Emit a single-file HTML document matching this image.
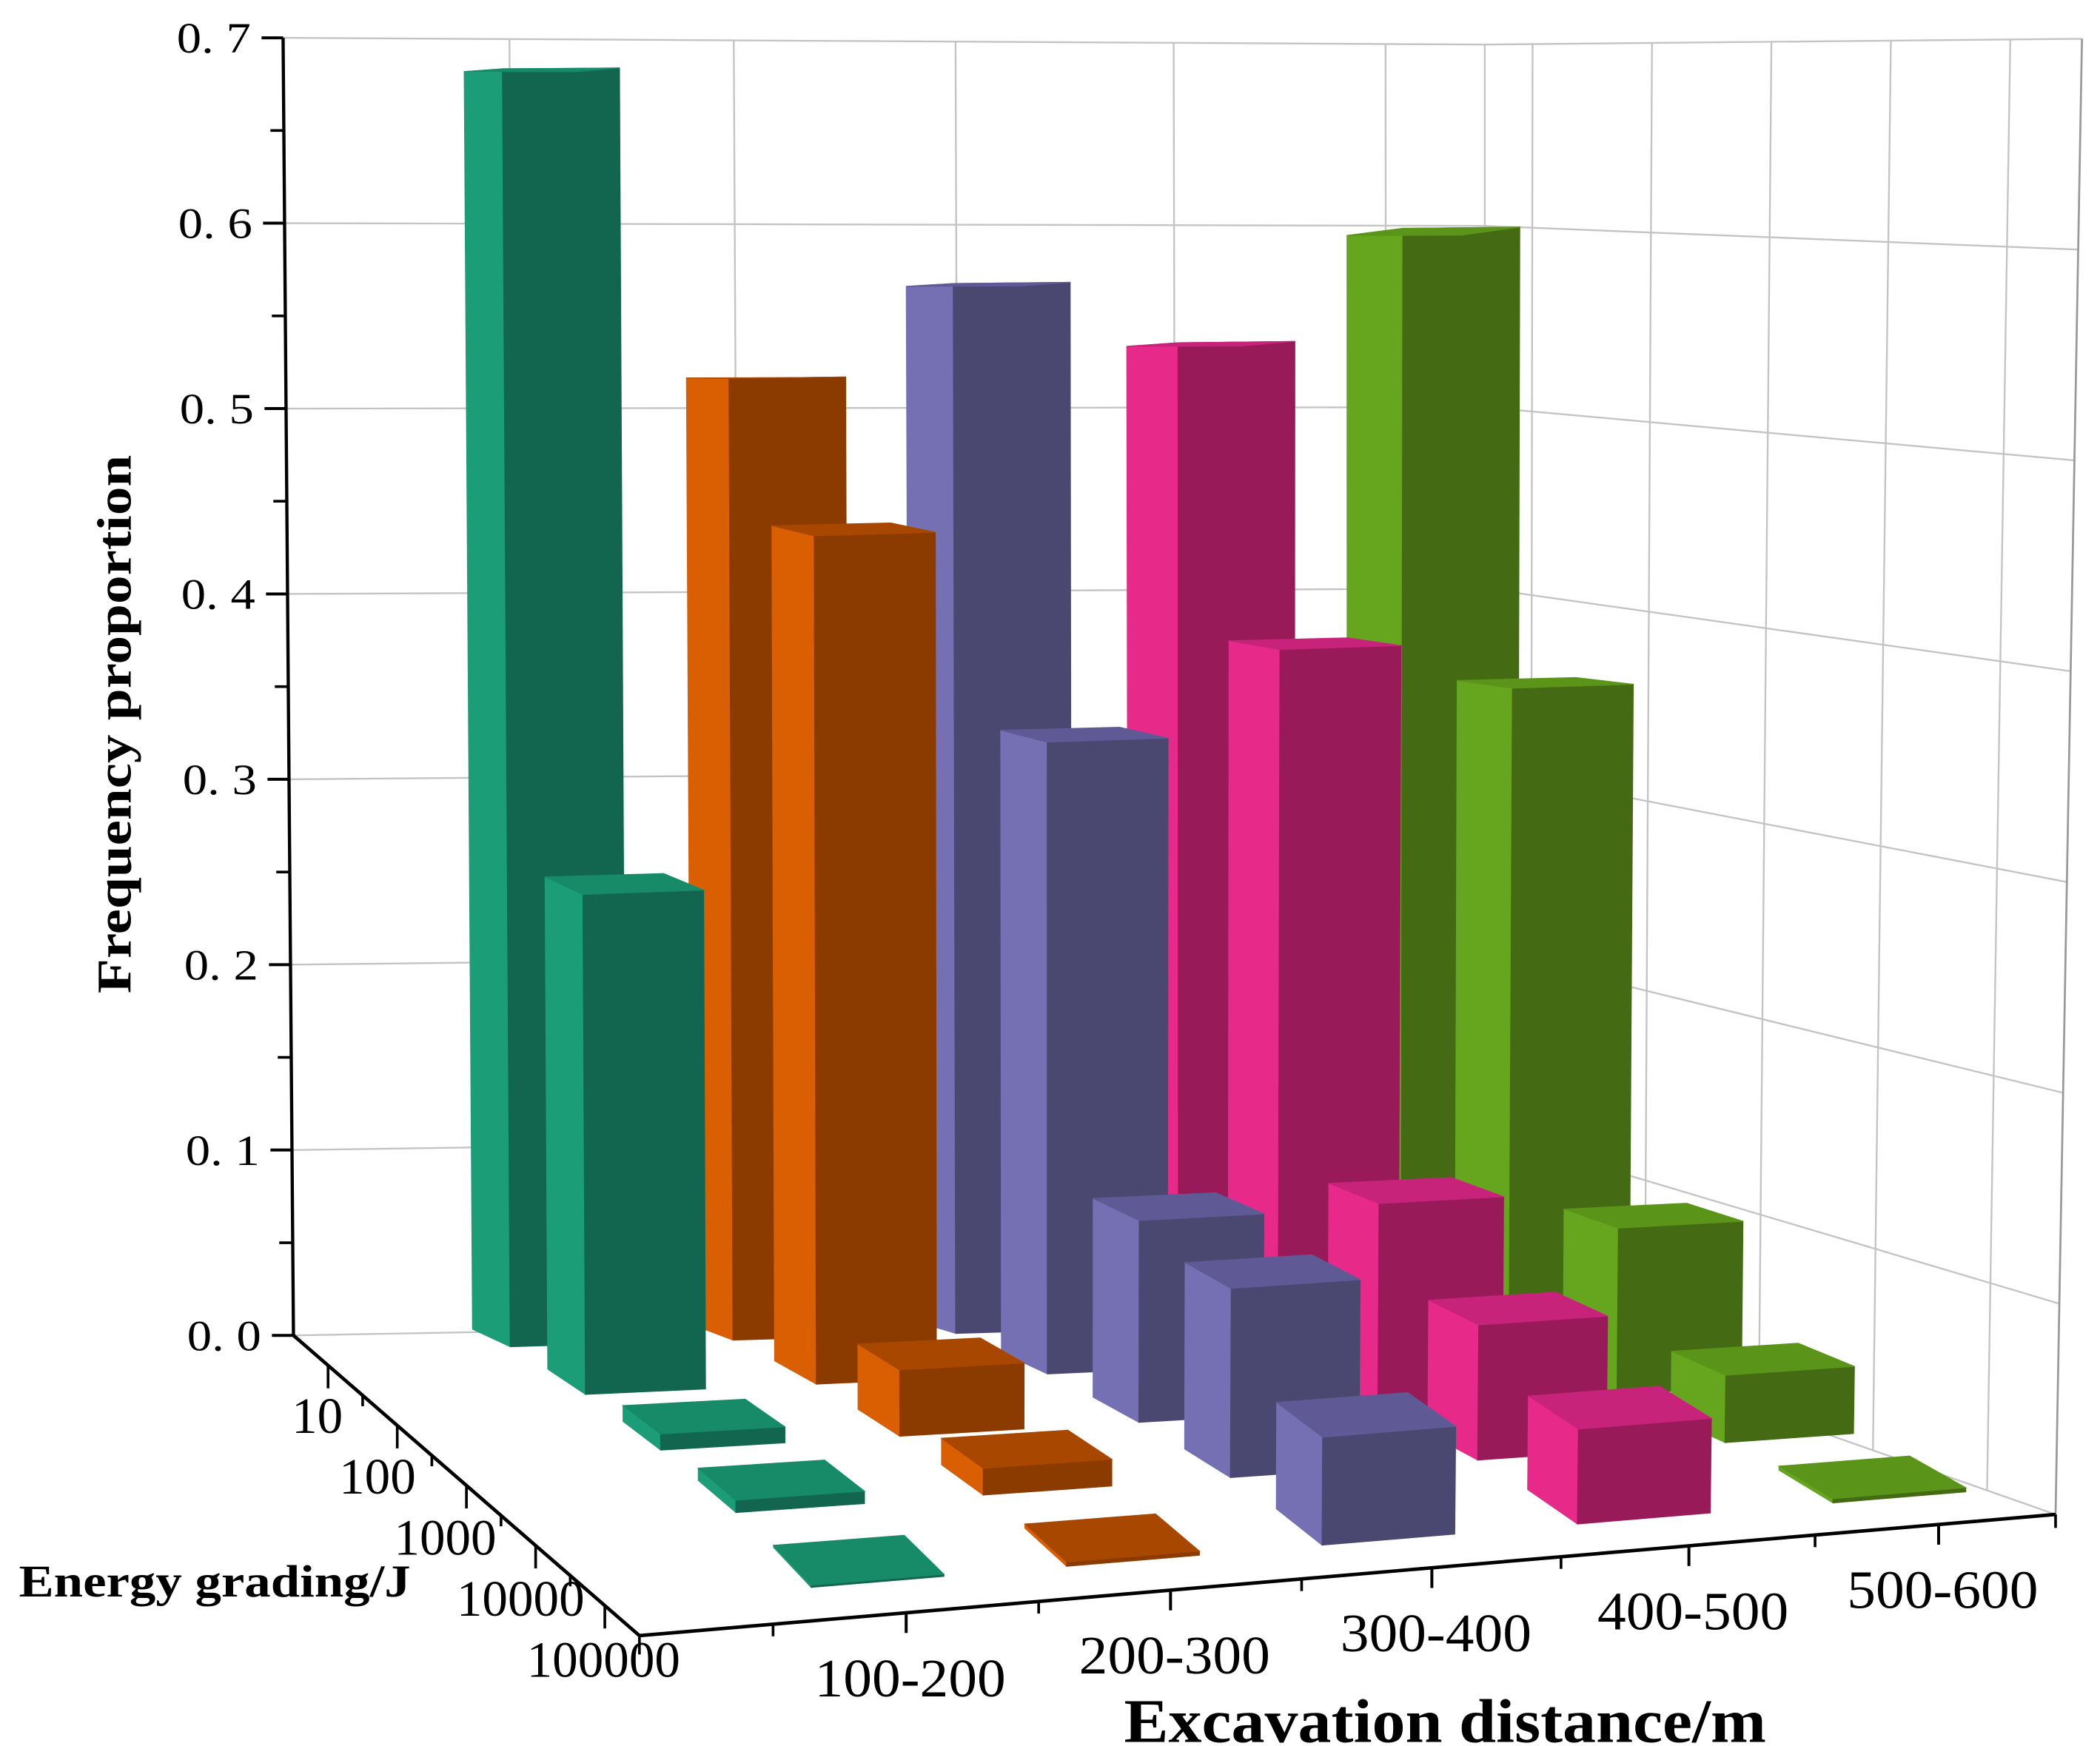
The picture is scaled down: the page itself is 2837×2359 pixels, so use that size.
<!DOCTYPE html>
<html><head><meta charset="utf-8"><style>
html,body{margin:0;padding:0;background:#fff;}
svg{display:block;}
text{font-family:"Liberation Serif",serif;fill:#000;}
</style></head><body>
<svg id="chart" width="2837" height="2359" viewBox="0 0 1560 1297" preserveAspectRatio="none" xmlns="http://www.w3.org/2000/svg">
<rect x="0" y="0" width="1560" height="1297" fill="#fff"/>
<g id="walls"></g>
<g id="bars"></g>
<g id="axes"></g>
<text x="0" y="0" transform="translate(97,538) rotate(-90)" text-anchor="middle" font-weight="bold" font-size="36" textLength="400" lengthAdjust="spacingAndGlyphs">Frequency proportion</text>
<text x="14" y="1186" font-weight="bold" font-size="34" textLength="291" lengthAdjust="spacingAndGlyphs">Energy grading/J</text>
<text x="835" y="1294" font-weight="bold" font-size="46" textLength="477" lengthAdjust="spacingAndGlyphs">Excavation distance/m</text>
</svg>
<script>
const categories = ['100-200','200-300','300-400','400-500','500-600'];
const energyLevels = ['10','100','1000','10000','100000'];
const values100_200 = [0.675, 0.256, 0.008, 0.006, 0.001];
const values200_300 = [0.51, 0.436, 0.033, 0.013, 0.002];
const values300_400 = [0.559, 0.326, 0.101, 0.092, 0.051];
const values400_500 = [0.526, 0.37, 0.103, 0.066, 0.045];
const values500_600 = [0.586, 0.346, 0.084, 0.033, 0.002];
const seriesValues = [values100_200, values200_300, values300_400, values400_500, values500_600];
const yTicks = [0, 0.1, 0.2, 0.3, 0.4, 0.5, 0.6, 0.7];
const yTickLabels = ['0. 0','0. 1','0. 2','0. 3','0. 4','0. 5','0. 6','0. 7'];

const NS = 'http://www.w3.org/2000/svg';
const U = 5.5, V = 5, HMAX = 0.7;
const palettes = [
  {side:'#1b9e77', front:'#126650', top:'#178a68'},
  {side:'#d95f02', front:'#8c3b00', top:'#a84800'},
  {side:'#7570b3', front:'#4a4870', top:'#5f5a95'},
  {side:'#e7298a', front:'#981a58', top:'#c8237a'},
  {side:'#66a61e', front:'#446b14', top:'#5a9419'}
];
function bil(a,b,c,d,fu,fv){return a*(1-fu)*(1-fv)+b*fu*(1-fv)+c*fu*fv+d*(1-fu)*fv;}
function proj(u,v,h,warp,bar){
  let fu=u/U; const fv=v/V;
  if(warp) fu=1-Math.pow(Math.max(0,1-fu),1.04);
  const x=bil(218,1103,1527,475,fu,fv);
  let y=bil(992,976,1125,1215,fu,fv);
  if(bar) y-=60*Math.sqrt(Math.max(0,fv*(1-fv)));
  const s=bil(1377,1347,1566,1600,fu,fv), t=bil(-11,0,28,-8,fu,fv);
  return [x+h*t, y-h*s];
}
function mk(tag, attrs, parent){
  const el=document.createElementNS(NS,tag);
  for(const k in attrs) el.setAttribute(k, attrs[k]);
  parent.appendChild(el); return el;
}
const walls=document.getElementById('walls');
const barsG=document.getElementById('bars');
const axes=document.getElementById('axes');
function line(p,q,stroke,w,parent,name){
  const el=mk('line',{x1:p[0],y1:p[1],x2:q[0],y2:q[1],stroke:stroke,'stroke-width':w},parent);
  
  
  return el;
}
const GRID='#c4c4c4';
yTicks.forEach(function(t){
  line(proj(0,0,t),proj(U,0,t),GRID,1.3,walls,'back-wall-gridline');
  line(proj(U,0,t),proj(U,V,t),GRID,1.3,walls,'side-wall-gridline');
});
for(let i=1;i<=categories.length;i++){ line(proj(i,0,0,true),proj(i,0,HMAX,true),GRID,1.3,walls,'back-wall-vertical-gridline'); }
line(proj(U,0,0),proj(U,0,HMAX),GRID,1.3,walls,'wall-corner-line');
for(let j=0;j<energyLevels.length;j++){ line(proj(U,j+0.4,0),proj(U,j+0.4,HMAX),GRID,1.3,walls,'side-wall-vertical-gridline'); }
line(proj(U,V,0),proj(U,V,HMAX),'#999',1.5,walls,'side-wall-front-edge');

const W=0.26, D=0.25;
function poly(pts,fill,name){
  const el=mk('polygon',{points:pts.map(p=>p[0].toFixed(1)+','+p[1].toFixed(1)).join(' '),fill:fill,stroke:fill,'stroke-width':0.6},barsG);
  
  
}
for(let j=0;j<energyLevels.length;j++){
  for(let i=categories.length-1;i>=0;i--){
    const h=seriesValues[i][j], uc=i+1, vc=j+0.5, pal=palettes[i];
    const u0=uc-W,u1=uc+W,v0=vc-D,v1=vc+D;
    const base='bar-'+categories[i]+'-'+energyLevels[j];
    poly([proj(u0,v0,0,false,true),proj(u0,v1,0,false,true),proj(u0,v1,h,false,true),proj(u0,v0,h,false,true)],pal.side,base+'-side');
    poly([proj(u0,v1,0,false,true),proj(u1,v1,0,false,true),proj(u1,v1,h,false,true),proj(u0,v1,h,false,true)],pal.front,base+'-front');
    poly([proj(u0,v0,h,false,true),proj(u1,v0,h,false,true),proj(u1,v1,h,false,true),proj(u0,v1,h,false,true)],pal.top,base+'-top');
  }
}

line(proj(0,0,0),proj(0,0,HMAX),'#000',2.4,axes,'y-axis-line');
line(proj(0,0,0),proj(0,V,0),'#000',2.6,axes,'energy-axis-line');
line(proj(0,V,0),proj(U,V,0),'#000',2.6,axes,'x-axis-line');
yTicks.forEach(function(t,k){
  const p=proj(0,0,t);
  line([p[0]-16,p[1]],p,'#000',2.2,axes,'y-major-tick');
  const tx=mk('text',{x:p[0]-24,y:p[1]+11,'text-anchor':'end','font-size':32,textLength:55,lengthAdjust:'spacingAndGlyphs'},axes);
  
  
  tx.textContent=yTickLabels[k];
  if(k<yTicks.length-1){
    const m=proj(0,0,t+0.05);
    line([m[0]-10,m[1]],m,'#000',2,axes,'y-minor-tick');
  }
});
for(let j=0;j<energyLevels.length;j++){
  const p=proj(0,j+0.5,0);
  line(p,[p[0],p[1]+17],'#000',2,axes,'energy-major-tick');
  if(j>0){ const q=proj(0,j,0); line(q,[q[0],q[1]+8],'#000',2,axes,'energy-minor-tick'); }
  const f=j/4;
  const tx=mk('text',{x:p[0]+11+45*f*f,y:p[1]+50+3*f,'text-anchor':'end','font-size':38},axes);
  
  
  tx.textContent=energyLevels[j];
}
{ const q=proj(0,V,0); line(q,[q[0],q[1]+14],'#000',2,axes,'energy-end-tick'); }
for(let i=0;i<categories.length;i++){
  const p=proj(i+1,V,0,true);
  line(p,[p[0],p[1]+15],'#000',2.2,axes,'x-major-tick');
  const q=proj(i+0.5,V,0,true);
  line(q,[q[0],q[1]+9],'#000',2,axes,'x-minor-tick');
  const tx=mk('text',{x:p[0]+3,y:p[1]+62,'text-anchor':'middle','font-size':40,textLength:142,lengthAdjust:'spacingAndGlyphs'},axes);
  
  
  tx.textContent=categories[i];
}
{ const q=proj(U,V,0); line(q,[q[0],q[1]+10],'#000',2,axes,'x-end-tick'); }
</script>
</body></html>
